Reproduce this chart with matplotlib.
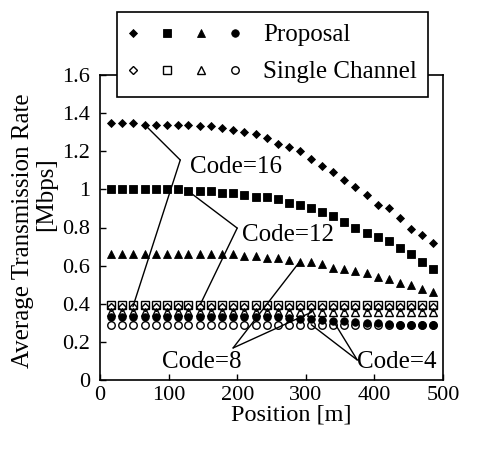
import matplotlib
matplotlib.use('Agg')
import matplotlib.pyplot as plt
from matplotlib.patches import Rectangle
from matplotlib.legend_handler import HandlerTuple

plt.rcParams['font.family'] = ['Liberation Serif', 'DejaVu Serif']

# Posicion [m]
position = [16, 32, 48, 65, 81, 97, 113, 129, 146, 162, 178, 194, 210, 227, 243,
            259, 275, 291, 308, 324, 340, 356, 372, 389, 405, 421, 437, 453, 470, 486]

# Proposal (filled markers)
prop_code16 = [1.35, 1.35, 1.35, 1.34, 1.34, 1.34, 1.34, 1.34, 1.33, 1.33, 1.32, 1.31, 1.30, 1.29, 1.27,
               1.24, 1.22, 1.20, 1.16, 1.12, 1.09, 1.05, 1.01, 0.97, 0.92, 0.90, 0.85, 0.79, 0.76, 0.72]
prop_code12 = [1.00, 1.00, 1.00, 1.00, 1.00, 1.00, 1.00, 0.99, 0.99, 0.99, 0.98, 0.98, 0.97, 0.96, 0.96,
               0.95, 0.93, 0.92, 0.90, 0.88, 0.86, 0.83, 0.80, 0.77, 0.75, 0.73, 0.69, 0.66, 0.62, 0.58]
prop_code8 = [0.66, 0.66, 0.66, 0.66, 0.66, 0.66, 0.66, 0.66, 0.66, 0.66, 0.66, 0.66, 0.65, 0.65, 0.64,
              0.64, 0.63, 0.62, 0.62, 0.61, 0.59, 0.58, 0.57, 0.56, 0.54, 0.53, 0.51, 0.50, 0.48, 0.46]
prop_code4 = [0.33, 0.33, 0.33, 0.33, 0.33, 0.33, 0.33, 0.33, 0.33, 0.33, 0.33, 0.33, 0.33, 0.33, 0.33,
              0.33, 0.325, 0.32, 0.32, 0.315, 0.31, 0.31, 0.305, 0.30, 0.30, 0.295, 0.29, 0.29, 0.29, 0.29]

# Single Channel (open markers)
single_code16 = [0.385, 0.385, 0.385, 0.385, 0.385, 0.385, 0.385, 0.385, 0.385, 0.385, 0.385, 0.385, 0.385, 0.385, 0.385,
                 0.385, 0.385, 0.385, 0.385, 0.385, 0.385, 0.385, 0.385, 0.385, 0.385, 0.385, 0.385, 0.385, 0.385, 0.385]
single_code12 = [0.395, 0.395, 0.395, 0.395, 0.395, 0.395, 0.395, 0.395, 0.395, 0.395, 0.395, 0.395, 0.395, 0.395, 0.395,
                 0.395, 0.395, 0.395, 0.395, 0.395, 0.395, 0.395, 0.395, 0.395, 0.395, 0.395, 0.395, 0.395, 0.395, 0.395]
single_code8 = [0.355, 0.355, 0.355, 0.355, 0.355, 0.355, 0.355, 0.355, 0.355, 0.355, 0.355, 0.355, 0.355, 0.355, 0.355,
                0.355, 0.355, 0.355, 0.355, 0.355, 0.355, 0.355, 0.355, 0.355, 0.355, 0.355, 0.355, 0.355, 0.355, 0.355]
single_code4 = [0.29, 0.29, 0.29, 0.29, 0.29, 0.29, 0.29, 0.29, 0.29, 0.29, 0.29, 0.29, 0.29, 0.29, 0.29,
                0.29, 0.29, 0.29, 0.29, 0.29, 0.29, 0.29, 0.29, 0.29, 0.29, 0.29, 0.29, 0.29, 0.29, 0.29]

x_ticks = [0, 100, 200, 300, 400, 500]
y_ticks = [0, 0.2, 0.4, 0.6, 0.8, 1.0, 1.2, 1.4, 1.6]
y_tick_labels = ['0', '0.2', '0.4', '0.6', '0.8', '1', '1.2', '1.4', '1.6']

W, H = 478, 450
fig = plt.figure(figsize=(W / 100, H / 100), dpi=100)
ax = fig.add_axes([100 / W, 1 - 380 / H, 343 / W, 305 / H])

markers = [('D', 4.0), ('s', 5.4), ('^', 5.8), ('o', 5.4)]

prop_lines = []
for vals, (mk, ms) in zip([prop_code16, prop_code12, prop_code8, prop_code4], markers):
    ln, = ax.plot(position, vals, linestyle='none', marker=mk, markersize=ms,
                  color='black', markeredgewidth=0.6, zorder=3)
    prop_lines.append(ln)

single_lines = []
for vals, (mk, ms) in zip([single_code16, single_code12, single_code8, single_code4], markers):
    ln, = ax.plot(position, vals, linestyle='none', marker=mk, markersize=ms,
                  markerfacecolor='none', markeredgecolor='black', markeredgewidth=1.0, zorder=4)
    single_lines.append(ln)

# Lineas de las etiquetas "Code=..."
def code_label(text, vertex, text_pos, targets):
    for tgt in targets:
        ax.annotate('', xy=tgt, xytext=vertex,
                    arrowprops=dict(arrowstyle='-', lw=1.0, color='black', shrinkA=0, shrinkB=0))
    ax.text(text_pos[0], text_pos[1], text, fontsize=18, ha='left', va='center')

code_label('Code=16', (117, 1.154), (131, 1.117),
           [(position[3], prop_code16[3]), (position[2], single_code16[2])])
code_label('Code=12', (200, 0.797), (207, 0.761),
           [(position[7], prop_code12[7]), (position[8], single_code12[8])])
code_label('Code=8', (194, 0.168), (90, 0.094),
           [(position[17], prop_code8[17]), (position[18], single_code8[18])])
code_label('Code=4', (375, 0.105), (375, 0.094),
           [(position[18], single_code4[18]), (position[20], prop_code4[20])])

ax.set_xlim(0, 500)
ax.set_ylim(0, 1.6)
ax.set_xticks(x_ticks)
ax.set_yticks(y_ticks)
ax.set_yticklabels(y_tick_labels)
ax.tick_params(direction='in', length=4, width=1, labelsize=16, top=False, right=False)
ax.tick_params(axis='y', pad=7)
ax.tick_params(axis='x', pad=4)
for sp in ax.spines.values():
    sp.set_linewidth(1.2)

ax.set_xlabel('Position [m]', fontsize=17.5)
ax.xaxis.set_label_coords((291 - 100) / 343, (380 - 404) / 305)

fig.text(23 / W, 1 - 231 / H, 'Average Transmission Rate', rotation=90,
         fontsize=18, ha='center', va='center')
fig.text(46 / W, 1 - 194 / H, '[Mbps]', rotation=90,
         fontsize=18, ha='center', va='center')

# Caja de la leyenda (tapa el borde superior del eje)
fig.patches.append(Rectangle((117 / W, 1 - 97 / H), (428 - 117) / W, 85 / H,
                             transform=fig.transFigure, facecolor='white',
                             edgecolor='black', linewidth=1.2, zorder=2))

# Leyenda con las cuatro marcas por fila
leg = fig.legend([tuple(prop_lines), tuple(single_lines)], ['Proposal', 'Single Channel'],
                 handler_map={tuple: HandlerTuple(ndivide=None, pad=0.88)},
                 loc='upper left', bbox_to_anchor=(117 / W, 1 - 14 / H),
                 bbox_transform=fig.transFigure, borderaxespad=0,
                 fontsize=18, handlelength=4.56, handletextpad=0.88,
                 borderpad=0.4, labelspacing=0.57, frameon=False)
leg.set_zorder(5)

fig.savefig('out.png', dpi=100)
plt.close(fig)
